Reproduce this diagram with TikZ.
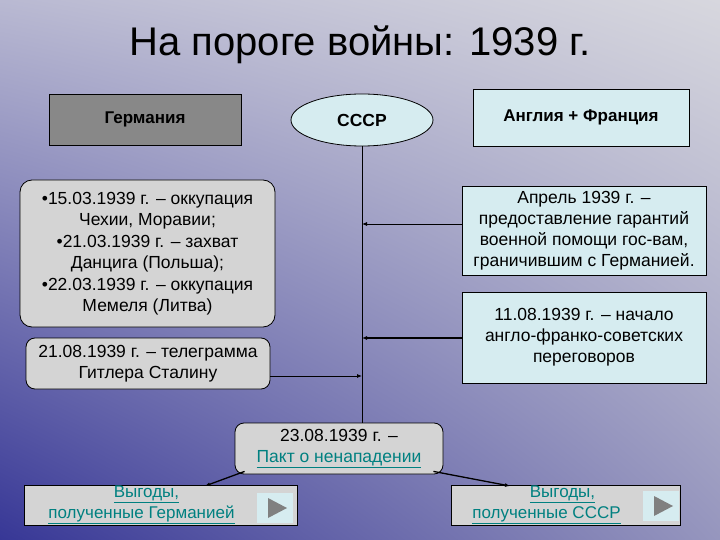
\documentclass[tikz,border=0pt]{standalone}
\usepackage{fontspec}
\setmainfont{Liberation Sans}
\usetikzlibrary{shapes.geometric,arrows.meta,shadings}
\definecolor{lcyan}{RGB}{214,236,240}
\definecolor{lgray}{RGB}{212,212,212}
\definecolor{dgray}{RGB}{136,136,136}
\definecolor{teal2}{RGB}{0,128,128}
\definecolor{bgA}{RGB}{55,55,150}
\definecolor{bgB}{RGB}{215,215,222}
\definecolor{bgC}{RGB}{185,185,210}
\definecolor{bgD}{RGB}{150,150,190}
\tikzset{
  box/.style={draw=black,line width=0.8pt,align=center,font=\fontsize{17}{21}\selectfont,inner sep=0pt},
  rbox/.style={box,fill=lgray,rounded corners=12pt},
  arr/.style={-{Latex[length=5pt,width=4pt]},line width=0.8pt},
  play/.style={fill=lcyan,draw=none,minimum width=36pt,minimum height=30pt,inner sep=0pt}
}
\newcommand{\ul}[1]{\underline{#1}}
\begin{document}
\begin{tikzpicture}[x=1pt,y=-1pt]
\shade[lower left=bgA,upper right=bgB,upper left=bgC,lower right=bgD] (0,540) rectangle (720,0);
\useasboundingbox (0,0) rectangle (720,540);
\node[font=\fontsize{40}{44}\selectfont] (title) at (360,45) {На пороге войны: 1939 г.};
\node[box,fill=dgray,minimum width=192pt,minimum height=51pt,font=\bfseries\fontsize{17}{20}\selectfont] (de) at (145,119.5) {Германия};
\node[ellipse,draw=black,line width=0.8pt,fill=lcyan,minimum width=142pt,minimum height=52pt,font=\bfseries\fontsize{17.5}{20}\selectfont] (su) at (362,120) {СССР};
\node[box,fill=lcyan,minimum width=216pt,minimum height=57pt,font=\bfseries\fontsize{17}{20}\selectfont] (af) at (581,117.5) {Англия + Франция};
\node[rbox,minimum width=255pt,minimum height=147pt,font=\fontsize{17.5}{21.5}\selectfont] (occ) at (147.5,253.5) {•15.03.1939 г. – оккупация\\Чехии, Моравии;\\•21.03.1939 г. – захват\\Данцига (Польша);\\•22.03.1939 г. – оккупация\\Мемеля (Литва)};
\node[rbox,rounded corners=9pt,minimum width=244pt,minimum height=51pt,font=\fontsize{17.5}{21.5}\selectfont] (tel) at (148,363.5) {21.08.1939 г. – телеграмма\\Гитлера Сталину};
\node[box,fill=lcyan,minimum width=244pt,minimum height=89pt,font=\fontsize{17.5}{21}\selectfont] (apr) at (584,230.5) {Апрель 1939 г. –\\предоставление гарантий\\военной помощи гос-вам,\\граничившим с Германией.};
\node[box,fill=lcyan,minimum width=244pt,minimum height=91pt,font=\fontsize{17.5}{21}\selectfont] (neg) at (584,337.5) {11.08.1939 г. – начало\\англо-франко-советских\\переговоров};
\node[rbox,rounded corners=9pt,minimum width=208pt,minimum height=51pt,font=\fontsize{17.5}{21}\selectfont] (pact) at (339,448.5) {23.08.1939 г. –\\{\color{teal2}\ul{Пакт о ненападении}}};
\node[box,fill=lgray,minimum width=273pt,minimum height=40pt,font=\fontsize{17}{21}\selectfont] (bde) at (160.5,505) {{\color{teal2}\ul{Выгоды,}}\hspace*{28pt}\\{\color{teal2}\ul{полученные Германией}}\hspace*{38pt}};
\node[box,fill=lgray,minimum width=229pt,minimum height=40pt,font=\fontsize{17}{21}\selectfont] (bsu) at (565.5,505) {{\color{teal2}\ul{Выгоды,}}\hspace*{6pt}\\{\color{teal2}\ul{полученные СССР}}\hspace*{38pt}};
\node[play] (p1) at (275,508) {};
\node[play] (p2) at (661,506) {};
\fill[gray] (268,498) -- (268,518) -- (287,508) -- cycle;
\fill[gray] (654,496) -- (654,516) -- (673,506) -- cycle;
\draw[line width=0.8pt] (su.south) -- (pact.north -| su.south);
\draw[arr] (apr.west |- 0,224) -- (362,224);
\draw[arr,line width=1.5pt] (neg.west |- 0,338) -- (362,338);
\draw[arr] (tel.east |- 0,376) -- (362,376);
\draw[arr,line width=1.3pt] (pact.south west) ++(10,-3) -- (205,486);
\draw[arr,line width=1.3pt] (pact.south east) ++(-10,-3) -- (510,486);
\end{tikzpicture}
\end{document}
